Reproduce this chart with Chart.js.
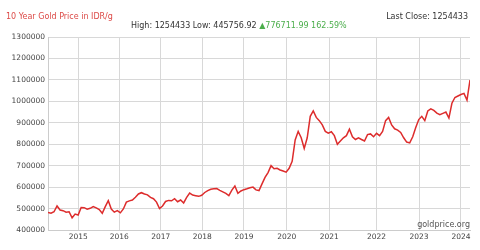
<!DOCTYPE html>
<html>
<head>
<meta charset="utf-8">
<script src="https://cdn.jsdelivr.net/npm/chart.js@4"></script>
<style>
  html, body { margin: 0; padding: 0; background: #fff; }
  #wrap { position: relative; width: 480px; height: 250px; font-family: "DejaVu Sans", sans-serif; font-size: 8px; }
  #wrap canvas { position: absolute; left: 0; top: 0; }
  .txt { position: absolute; white-space: nowrap; line-height: 10px; }
  #title { left: 6px; top: 12px; color: #dc4a47; }
  #last { right: 12px; top: 12px; color: #333; }
  #stats { left: 131px; top: 21px; color: #333; }
  #stats span { color: #4cae4c; }
  #src { right: 10px; top: 220px; color: #555; }
</style>
</head>
<body>
<div id="wrap">
  <canvas id="goldChart" width="480" height="250"></canvas>
  <div class="txt" id="title">10 Year Gold Price in IDR/g</div>
  <div class="txt" id="last">Last Close: 1254433</div>
  <div class="txt" id="stats">High: 1254433 Low: 445756.92 <span>&#9650;776711.99 162.59%</span></div>
  <div class="txt" id="src">goldprice.org</div>
</div>
<script>
// price samples, evenly spaced across the 10 years (index = sample number)
const prices = [
  482000, 478000, 485000, 512000, 493000, 490000, 483000, 485000, 457000, 474000,
  470000, 505000, 504000, 497000, 501000, 509000, 503000, 495000, 478000, 509000,
  537000, 498000, 483000, 490000, 480000, 498000, 530000, 536000, 540000, 553000,
  568000, 574000, 568000, 564000, 552000, 546000, 530000, 500000, 512000, 533000,
  538000, 536000, 546000, 532000, 540000, 526000, 552000, 572000, 563000, 560000,
  557000, 562000, 575000, 584000, 590000, 592000, 593000, 585000, 578000, 571000,
  560000, 586000, 605000, 571000, 582000, 588000, 592000, 597000, 600000, 587000,
  584000, 615000, 645000, 668000, 700000, 686000, 688000, 680000, 675000, 670000,
  688000, 720000, 820000, 860000, 830000, 780000, 830000, 930000, 955000, 925000,
  910000, 890000, 860000, 852000, 858000, 840000, 800000, 815000, 830000, 840000,
  870000, 835000, 822000, 830000, 822000, 815000, 845000, 848000, 835000, 851000,
  840000, 860000, 910000, 925000, 890000, 872000, 866000, 855000, 830000, 810000,
  806000, 835000, 878000, 915000, 930000, 910000, 955000, 965000, 958000, 945000,
  938000, 944000, 950000, 922000, 991000, 1018000, 1025000, 1032000, 1037000, 1006000,
  1099000
];

// sample index where each year starts
const yearTickIdx = [10.05, 23.66, 37.4, 51.2, 65.0, 79.2, 93.3, 109.0, 123.1, 137.0];
const yearLabels = ["2015", "2016", "2017", "2018", "2019", "2020", "2021", "2022", "2023", "2024"];

const yMin = 400000;
const yMax = 1300000;
const yStep = 100000;

const points = prices.map((p, i) => ({ x: i, y: p }));

new Chart(document.getElementById("goldChart"), {
  type: 'line',
  data: {
    datasets: [{
      data: points,
      borderColor: '#dd2c2c',
      borderWidth: 1.5,
      pointRadius: 0,
      tension: 0,
      fill: false
    }]
  },
  options: {
    responsive: false,
    animation: false,
    layout: { padding: { top: 37, right: 10, left: 0, bottom: 0 } },
    plugins: { legend: { display: false }, tooltip: { enabled: false } },
    scales: {
      x: {
        type: 'linear',
        min: 0,
        max: prices.length - 1,
        afterBuildTicks: s => { s.ticks = yearTickIdx.map(v => ({ value: v })); },
        afterFit: s => { s.height = 20; },
        ticks: {
          autoSkip: false,
          maxRotation: 0,
          padding: 3,
          color: '#444',
          font: { family: 'DejaVu Sans', size: 7.5 },
          callback: (v, i) => yearLabels[i]
        },
        grid: { color: '#d8d8d8', drawTicks: false },
        border: { color: '#cccccc' }
      },
      y: {
        min: yMin,
        max: yMax,
        afterFit: s => { s.width = 48; },
        ticks: {
          stepSize: yStep,
          padding: 3,
          color: '#444',
          font: { family: 'DejaVu Sans', size: 7.5 },
          callback: v => String(v)
        },
        grid: { color: '#d8d8d8', drawTicks: false },
        border: { color: '#cccccc' }
      }
    }
  }
});
</script>
</body>
</html>
